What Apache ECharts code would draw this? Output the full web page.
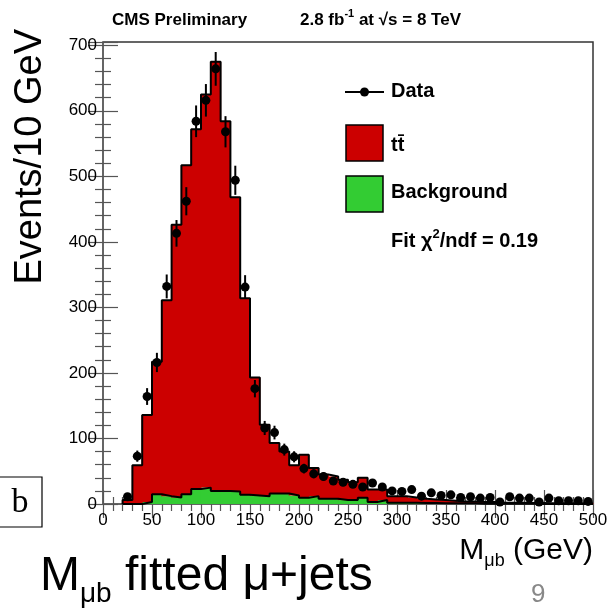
<!DOCTYPE html>
<html>
<head>
<meta charset="utf-8">
<script src="https://cdn.jsdelivr.net/npm/echarts@6/dist/echarts.min.js"></script>
<style>
  html, body { margin: 0; padding: 0; background: #fff; }
  #chart { width: 611px; height: 608px; }
</style>
</head>
<body>
<div id="chart"></div>
<script>
// M_mub distribution, 10 GeV bins from 20 to 500 GeV
const binWidth = 10;
const binLow = [20, 30, 40, 50, 60, 70, 80, 90, 100, 110, 120, 130, 140, 150, 160, 170,
  180, 190, 200, 210, 220, 230, 240, 250, 260, 270, 280, 290, 300, 310, 320, 330,
  340, 350, 360, 370, 380, 390, 400, 410, 420, 430, 440, 450, 460, 470, 480, 490];

// observed events per bin
const dataCounts = [11, 73, 164, 216, 332, 413, 462, 584, 616, 664, 568, 494, 331, 176, 116, 109,
  83, 72, 54, 46, 42, 35, 33, 30, 26, 32, 26, 20, 19, 22, 12, 17,
  13, 14, 10, 11, 9, 10, 3, 11, 9, 9, 3, 9, 5, 5, 5, 4];

// fitted total (ttbar + background), top of the red stack
const fitTotal = [6, 59, 136, 217, 311, 426, 517, 572, 625, 675, 584, 468, 314, 193, 121, 93,
  80, 59, 75, 55, 45, 42, 37, 33, 40, 22, 22, 12, 12, 10, 8, 7,
  6, 5, 4, 4, 3, 3, 2, 2, 2, 1.5, 1.5, 1, 1, 1, 1, 1];

// fitted background component
const fitBackground = [0, 0, 3, 15, 12, 10, 15, 23, 25, 20, 20, 19, 14, 13, 12, 16,
  16, 13, 9.5, 12, 8, 8, 6, 6, 9.5, 3, 6, 2, 2, 2, 1.5, 1.5,
  1, 1, 1, 1, 0.5, 0.5, 0.5, 0.5, 0.5, 0.5, 0, 0, 0, 0, 0, 0];

const xTicks = [0, 50, 100, 150, 200, 250, 300, 350, 400, 450, 500];
const yTicks = [0, 100, 200, 300, 400, 500, 600, 700];

const RED = '#cc0000';
const GREEN = '#33cc33';
const FONT = '"Liberation Sans", Arial, Helvetica, sans-serif';

// fill rows: [low, high, bottom, top]
const redRows = binLow.map((lo, i) => [lo, lo + binWidth, fitBackground[i], fitTotal[i]]);
const greenRows = binLow.map((lo, i) => [lo, lo + binWidth, 0, fitBackground[i]]);
const dataRows = binLow.map((lo, i) => [lo + binWidth / 2, dataCounts[i], Math.sqrt(dataCounts[i])]);

// step outlines
function stepLine(vals) {
  const pts = [[binLow[0], 0]];
  binLow.forEach((lo, i) => pts.push([lo, vals[i]]));
  const last = binLow[binLow.length - 1] + binWidth;
  pts.push([last, vals[vals.length - 1]]);
  pts.push([last, 0]);
  return pts;
}

function fillRender(color) {
  return function (params, api) {
    const p0 = api.coord([api.value(0), api.value(2)]);
    const p1 = api.coord([api.value(1), api.value(3)]);
    const h = p0[1] - p1[1];
    if (h <= 0) return null;
    return {
      type: 'rect',
      shape: { x: p0[0] - 0.5, y: p1[1], width: p1[0] - p0[0] + 1, height: h },
      style: { fill: color, stroke: null }
    };
  };
}

function dataRender(params, api) {
  const x = api.value(0), y = api.value(1), e = api.value(2);
  const c = api.coord([x, y]);
  const lo = api.coord([x, Math.max(0, y - e)]);
  const hi = api.coord([x, y + e]);
  return {
    type: 'group',
    children: [
      { type: 'line', shape: { x1: c[0], y1: lo[1], x2: c[0], y2: hi[1] },
        style: { stroke: '#000', lineWidth: 2 } },
      { type: 'circle', shape: { cx: c[0], cy: c[1], r: 4.5 }, style: { fill: '#000' } }
    ]
  };
}

const tickStyle = { color: '#555', width: 1.2 };
const chart = echarts.init(document.getElementById('chart'), null, { renderer: 'canvas' });

chart.setOption({
  backgroundColor: '#fff',
  animation: false,
  grid: { left: 103, right: 18, top: 42, bottom: 104, show: true, borderColor: '#333', borderWidth: 1.5, backgroundColor: 'transparent' },
  xAxis: [{
    type: 'value', min: 0, max: 500, interval: 50,
    axisLine: { show: false },
    axisTick: { inside: true, length: 14, lineStyle: tickStyle },
    minorTick: { show: true, splitNumber: 5, length: 7, lineStyle: tickStyle },
    splitLine: { show: false },
    axisLabel: { color: '#000', fontSize: 17, fontFamily: FONT, margin: 8,
      formatter: v => xTicks.includes(v) ? String(v) : '' }
  }, {
    type: 'value', min: 0, max: 500, interval: 50, position: 'top',
    axisLine: { show: false },
    axisTick: { inside: true, length: 14, lineStyle: tickStyle },
    minorTick: { show: true, splitNumber: 5, length: 7, lineStyle: tickStyle },
    splitLine: { show: false }, axisLabel: { show: false }
  }],
  yAxis: [{
    type: 'value', min: 0, max: 705, interval: 100,
    axisLine: { show: false },
    axisTick: { inside: true, length: 15, lineStyle: tickStyle },
    minorTick: { show: true, splitNumber: 5, length: 8, lineStyle: tickStyle },
    splitLine: { show: false },
    axisLabel: { color: '#000', fontSize: 17, fontFamily: FONT, margin: 6,
      formatter: v => yTicks.includes(v) ? String(v) : '' }
  }, {
    type: 'value', min: 0, max: 705, interval: 100, position: 'right',
    axisLine: { show: false },
    axisTick: { inside: true, length: 15, lineStyle: tickStyle },
    minorTick: { show: true, splitNumber: 5, length: 8, lineStyle: tickStyle },
    splitLine: { show: false }, axisLabel: { show: false }
  }],
  series: [
    { type: 'custom', name: 'Background', data: greenRows, renderItem: fillRender(GREEN),
      encode: { x: [0, 1], y: [2, 3] }, z: 2 },
    { type: 'custom', name: 'ttbar', data: redRows, renderItem: fillRender(RED),
      encode: { x: [0, 1], y: [2, 3] }, z: 2 },
    { type: 'line', step: 'end', data: stepLine(fitBackground), symbol: 'none',
      lineStyle: { color: '#000', width: 2 }, z: 3 },
    { type: 'line', step: 'end', data: stepLine(fitTotal), symbol: 'none',
      lineStyle: { color: '#000', width: 2 }, z: 3 },
    { type: 'custom', name: 'Data', data: dataRows, renderItem: dataRender,
      encode: { x: 0, y: 1 }, z: 5 }
  ],
  graphic: [
    // header
    { type: 'text', left: 112, top: 12, style: { text: 'CMS Preliminary', font: 'bold 17px ' + FONT, fill: '#000' } },
    { type: 'text', left: 300, top: 8, style: {
        text: '2.8 fb{sup|-1} at {n|√s} = 8 TeV',
        rich: {
          sup: { font: 'bold 11px ' + FONT, verticalAlign: 'top', lineHeight: 24 },
          n: { font: 'bold 17px ' + FONT, lineHeight: 24 }
        },
        font: 'bold 17px ' + FONT, lineHeight: 24, fill: '#000' } },
    // y axis title
    { type: 'text', x: 31, y: 29, rotation: Math.PI / 2,
      style: { text: 'Events/10 GeV', font: '38px ' + FONT, fill: '#000', align: 'right', verticalAlign: 'middle' } },
    // x axis title
    { type: 'text', right: 18, top: 532, style: {
        text: 'M{sub|μb} (GeV)',
        rich: { sub: { font: '18px ' + FONT, verticalAlign: 'bottom', lineHeight: 38 } },
        font: '30px ' + FONT, lineHeight: 38, fill: '#000' } },
    // legend
    { type: 'line', shape: { x1: 345, y1: 92, x2: 384, y2: 92 }, style: { stroke: '#000', lineWidth: 2 } },
    { type: 'circle', shape: { cx: 364.5, cy: 92, r: 4.5 }, style: { fill: '#000' } },
    { type: 'text', left: 391, top: 81, style: { text: 'Data', font: 'bold 20px ' + FONT, fill: '#000' } },
    { type: 'rect', shape: { x: 346, y: 125, width: 37, height: 36 }, style: { fill: RED, stroke: '#000', lineWidth: 1.5 } },
    { type: 'text', left: 391, top: 135, style: { text: 'tt̄', font: 'bold 20px ' + FONT, fill: '#000' } },
    { type: 'rect', shape: { x: 346, y: 176, width: 37, height: 36 }, style: { fill: GREEN, stroke: '#000', lineWidth: 1.5 } },
    { type: 'text', left: 391, top: 182, style: { text: 'Background', font: 'bold 20px ' + FONT, fill: '#000' } },
    { type: 'text', left: 391, top: 228, style: {
        text: 'Fit χ{sup|2}/ndf = 0.19',
        rich: { sup: { font: 'bold 13px ' + FONT, verticalAlign: 'top', lineHeight: 26 } },
        font: 'bold 20px ' + FONT, lineHeight: 26, fill: '#000' } },
    // panel label
    { type: 'rect', shape: { x: -2, y: 477, width: 44, height: 50 }, style: { fill: '#fff', stroke: '#000', lineWidth: 1.2 } },
    { type: 'text', x: 20, y: 503, style: { text: 'b', font: '34px "Liberation Serif", "Times New Roman", serif', fill: '#000', align: 'center', verticalAlign: 'middle' } },
    // slide caption
    { type: 'text', left: 40, top: 546, style: {
        text: 'M{sub|μb} fitted μ+jets',
        rich: { sub: { font: '28px ' + FONT, verticalAlign: 'bottom', lineHeight: 62 } },
        font: '48px ' + FONT, lineHeight: 62, fill: '#000' } },
    { type: 'text', left: 531, top: 582, style: { text: '9', font: '26px ' + FONT, fill: '#888' } }
  ]
});
</script>
</body>
</html>
